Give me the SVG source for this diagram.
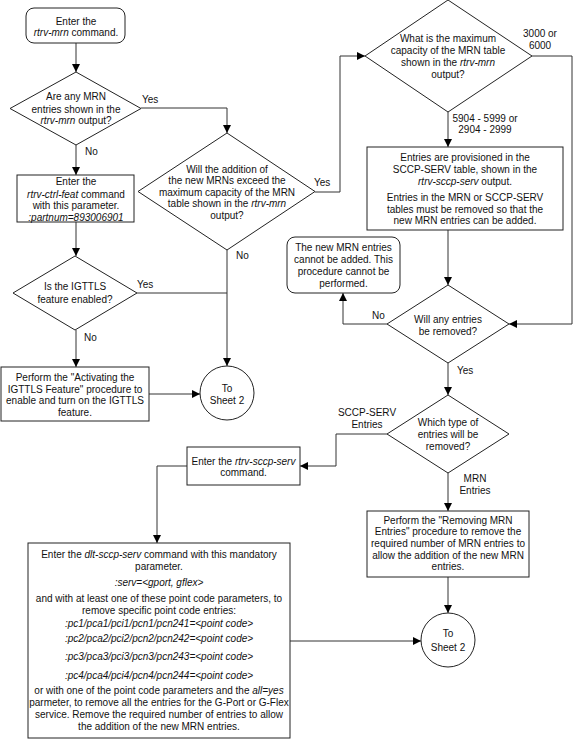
<svg xmlns="http://www.w3.org/2000/svg" width="575" height="740" viewBox="0 0 575 740">
<defs>
<marker id="arr" markerUnits="userSpaceOnUse" markerWidth="8" markerHeight="8" viewBox="0 0 8 8" refX="8" refY="4" orient="auto">
<path d="M0,0 L8,4 L0,8 Z" fill="#000"/>
</marker>
<style>
.s{fill:#fff;stroke:#222;stroke-width:1}
.c{fill:none;stroke:#333;stroke-width:1}
text{font-family:"Liberation Sans",Arial,sans-serif;font-size:10px;fill:#111}
.m{text-anchor:middle}
.i{font-style:italic}
</style>
</defs>
<rect width="575" height="740" fill="#fff"/>
<g id="connectors">
<path class="c" d="M76,43 V72" marker-end="url(#arr)"/>
<path class="c" d="M76,145 V175" marker-end="url(#arr)"/>
<path class="c" d="M76,222 V256" marker-end="url(#arr)"/>
<path class="c" d="M76,330 V367" marker-end="url(#arr)"/>
<path class="c" d="M141,108 H227 V133" marker-end="url(#arr)"/>
<path class="c" d="M227,250 V366" marker-end="url(#arr)"/>
<path class="c" d="M137,293 H227"/>
<path class="c" d="M149,394 H200" marker-end="url(#arr)"/>
<path class="c" d="M315,192 H340 V56 H365" marker-end="url(#arr)"/>
<path class="c" d="M532,56 H572 V324 H509" marker-end="url(#arr)"/>
<path class="c" d="M448,112 V147" marker-end="url(#arr)"/>
<path class="c" d="M448,230 V285" marker-end="url(#arr)"/>
<path class="c" d="M387,324 H343 V293" marker-end="url(#arr)"/>
<path class="c" d="M448,363 V395" marker-end="url(#arr)"/>
<path class="c" d="M387,434 H336 V466 H300" marker-end="url(#arr)"/>
<path class="c" d="M187,466 H157 V543" marker-end="url(#arr)"/>
<path class="c" d="M448,473 V511" marker-end="url(#arr)"/>
<path class="c" d="M448,577 V613" marker-end="url(#arr)"/>
<path class="c" d="M290,641 H421" marker-end="url(#arr)"/>
<text x="142" y="103">Yes</text>
<text x="85" y="154.5">No</text>
<text x="314" y="186">Yes</text>
<text x="236" y="258.5">No</text>
<text x="137" y="287.5">Yes</text>
<text x="84" y="340.5">No</text>
<text class="m" x="540" y="37">3000 or</text>
<text class="m" x="540" y="48.5">6000</text>
<text class="m" x="485" y="121.5">5904 - 5999 or</text>
<text class="m" x="485" y="133">2904 - 2999</text>
<text x="372" y="318.5">No</text>
<text x="457" y="373.5">Yes</text>
<text class="m" x="367" y="415.5">SCCP-SERV</text>
<text class="m" x="367" y="427.5">Entries</text>
<text class="m" x="475" y="481.5">MRN</text>
<text class="m" x="475" y="493.5">Entries</text>
</g>
<g id="start">
<rect class="s" x="26" y="8" width="99" height="35" rx="8"/>
<text class="m" x="76" y="24.5">Enter the</text>
<text class="m" x="76" y="36"><tspan class="i">rtrv-mrn</tspan> command.</text>
</g>
<g id="d1">
<path class="s" d="M76,72 L141,108.5 L76,145 L10,108.5 Z"/>
<text class="m" x="76" y="100">Are any MRN</text>
<text class="m" x="76" y="112.5">entries shown in the</text>
<text class="m" x="76" y="124"><tspan class="i">rtrv-mrn</tspan> output?</text>
</g>
<g id="b2">
<rect class="s" x="17" y="175" width="117" height="47"/>
<text class="m" x="76" y="185">Enter the</text>
<text class="m" x="76" y="197.5"><tspan class="i">rtrv-ctrl-feat</tspan> command</text>
<text class="m" x="76" y="209">with this parameter.</text>
<text class="m i" x="76" y="220.5">:partnum=893006901</text>
</g>
<g id="d2">
<path class="s" d="M227,133 L315,191.5 L227,250 L138,191.5 Z"/>
<text class="m" x="227" y="172.5">Will the addition of</text>
<text class="m" x="227" y="184">the new MRNs exceed the</text>
<text class="m" x="227" y="195.5">maximum capacity of the MRN</text>
<text class="m" x="227" y="207">table shown in the <tspan class="i">rtrv-mrn</tspan></text>
<text class="m" x="227" y="218.5">output?</text>
</g>
<g id="d3">
<path class="s" d="M75,256 L137,293 L75,330 L13,293 Z"/>
<text class="m" x="75" y="290">Is the IGTTLS</text>
<text class="m" x="75" y="302.5">feature enabled?</text>
</g>
<g id="b4">
<rect class="s" x="1" y="367" width="148" height="54"/>
<text class="m" x="75" y="380.5">Perform the "Activating the</text>
<text class="m" x="75" y="392.5">IGTTLS Feature" procedure to</text>
<text class="m" x="75" y="404">enable and turn on the IGTTLS</text>
<text class="m" x="75" y="416">feature.</text>
</g>
<g id="c1">
<circle class="s" cx="227" cy="393" r="27"/>
<text class="m" x="227" y="391.5">To</text>
<text class="m" x="227" y="403.5">Sheet 2</text>
</g>
<g id="d4">
<path class="s" d="M448,0 L532,56 L448,112 L365,56 Z"/>
<text class="m" x="448" y="42">What is the maximum</text>
<text class="m" x="448" y="54">capacity of the MRN table</text>
<text class="m" x="448" y="66">shown in the <tspan class="i">rtrv-mrn</tspan></text>
<text class="m" x="448" y="77.5">output?</text>
</g>
<g id="b5">
<rect class="s" x="367" y="147" width="196" height="83"/>
<text class="m" x="465" y="161">Entries are provisioned in the</text>
<text class="m" x="465" y="173">SCCP-SERV table, shown in the</text>
<text class="m" x="465" y="185"><tspan class="i">rtrv-sccp-serv</tspan> output.</text>
<text class="m" x="465" y="201">Entries in the MRN or SCCP-SERV</text>
<text class="m" x="465" y="212.5">tables must be removed so that the</text>
<text class="m" x="465" y="224">new MRN entries can be added.</text>
</g>
<g id="e6">
<rect class="s" x="287" y="237" width="113" height="56" rx="8"/>
<text class="m" x="343.5" y="251">The new MRN entries</text>
<text class="m" x="343.5" y="263">cannot be added. This</text>
<text class="m" x="343.5" y="275">procedure cannot be</text>
<text class="m" x="343.5" y="287">performed.</text>
</g>
<g id="d5">
<path class="s" d="M448,285 L509,324 L448,363 L387,324 Z"/>
<text class="m" x="448" y="323">Will any entries</text>
<text class="m" x="448" y="334.5">be removed?</text>
</g>
<g id="d6">
<path class="s" d="M448,395 L509,434 L448,473 L387,434 Z"/>
<text class="m" x="448" y="426">Which type of</text>
<text class="m" x="448" y="438">entries will be</text>
<text class="m" x="448" y="449.5">removed?</text>
</g>
<g id="b7">
<rect class="s" x="187" y="447" width="113" height="38"/>
<text class="m" x="243.5" y="464.5">Enter the <tspan class="i">rtrv-sccp-serv</tspan></text>
<text class="m" x="243.5" y="476">command.</text>
</g>
<g id="b8">
<rect class="s" x="28" y="543" width="262" height="195"/>
<text class="m" x="159" y="557.5">Enter the <tspan class="i">dlt-sccp-serv</tspan> command with this mandatory</text>
<text class="m" x="159" y="569.5">parameter.</text>
<text class="m i" x="159" y="586">:serv=&lt;gport, gflex&gt;</text>
<text class="m" x="159" y="601.5">and with at least one of these point code parameters, to</text>
<text class="m" x="159" y="613.5">remove specific point code entries:</text>
<text class="m i" x="159" y="626.5">:pc1/pca1/pci1/pcn1/pcn241=&lt;point code&gt;</text>
<text class="m i" x="159" y="641.5">:pc2/pca2/pci2/pcn2/pcn242=&lt;point code&gt;</text>
<text class="m i" x="159" y="660">:pc3/pca3/pci3/pcn3/pcn243=&lt;point code&gt;</text>
<text class="m i" x="159" y="678.5">:pc4/pca4/pci4/pcn4/pcn244=&lt;point code&gt;</text>
<text class="m" x="159" y="694">or with one of the point code parameters and the <tspan class="i">all=yes</tspan></text>
<text class="m" x="159" y="706">parmeter, to remove all the entries for the G-Port or G-Flex</text>
<text class="m" x="159" y="717.5">service. Remove the required number of entries to allow</text>
<text class="m" x="159" y="729.5">the addition of the new MRN entries.</text>
</g>
<g id="b9">
<rect class="s" x="367" y="511" width="162" height="66"/>
<text class="m" x="448" y="523.5">Perform the "Removing MRN</text>
<text class="m" x="448" y="535">Entries" procedure to remove the</text>
<text class="m" x="448" y="547">required number of MRN entries to</text>
<text class="m" x="448" y="558.5">allow the addition of the new MRN</text>
<text class="m" x="448" y="570">entries.</text>
</g>
<g id="c2">
<circle class="s" cx="448" cy="640" r="27"/>
<text class="m" x="448" y="636.5">To</text>
<text class="m" x="448" y="650.5">Sheet 2</text>
</g>
</svg>
